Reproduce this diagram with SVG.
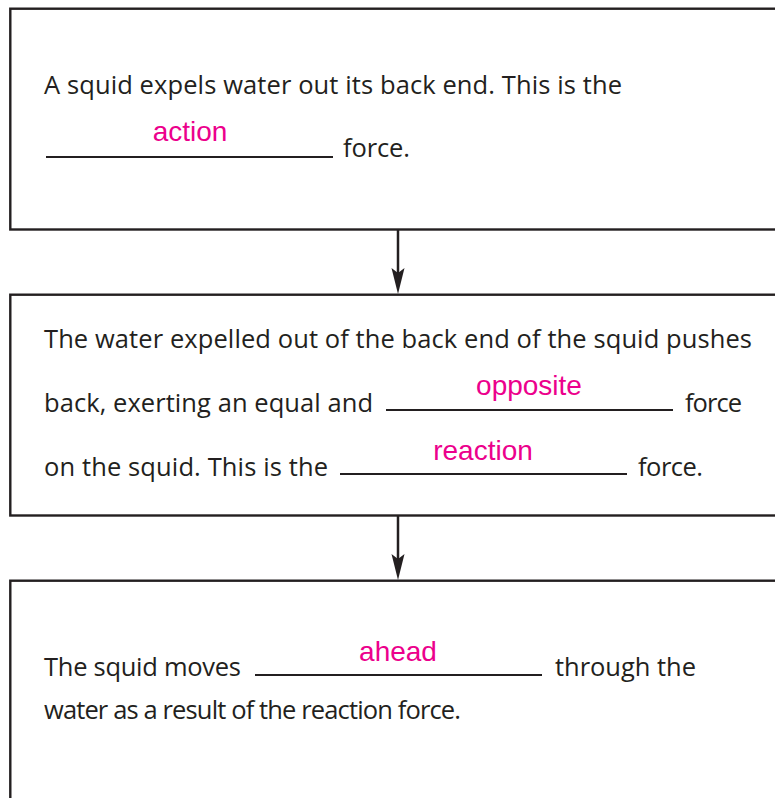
<svg xmlns="http://www.w3.org/2000/svg" width="775" height="798" viewBox="0 0 775 798">
<style>
.box{fill:none;stroke:#231f20;stroke-width:2.4}
.t{font-family:"Open Sans","Noto Sans","Liberation Sans",sans-serif;font-size:25.5px;fill:#231f20}
.a{font-family:"Liberation Sans",Arial,sans-serif;font-size:28px;fill:#ec008c;text-anchor:middle}
.u{stroke:#231f20;stroke-width:1.8}
.c{stroke:#231f20;stroke-width:2.5}
.h{fill:#231f20}
</style>
<rect width="775" height="798" fill="#ffffff"/>
<g id="node1">
<rect class="box" x="10.3" y="8.7" width="800" height="220.8"/>
<text class="t" x="44" y="94" textLength="578">A squid expels water out its back end. This is the</text>
<line class="u" x1="46" y1="157" x2="333" y2="157"/>
<text class="a" x="190" y="141">action</text>
<text class="t" x="343" y="157" textLength="67">force.</text>
</g>
<g id="node2">
<rect class="box" x="10.3" y="294.7" width="800" height="220.8"/>
<text class="t" x="44" y="348" textLength="708">The water expelled out of the back end of the squid pushes</text>
<text class="t" x="44" y="412" textLength="329">back, exerting an equal and</text>
<line class="u" x1="386" y1="410" x2="673" y2="410"/>
<text class="a" x="529" y="395">opposite</text>
<text class="t" x="685" y="412" textLength="57">force</text>
<text class="t" x="44" y="476" textLength="284">on the squid. This is the</text>
<line class="u" x1="340" y1="474" x2="627" y2="474"/>
<text class="a" x="483" y="460">reaction</text>
<text class="t" x="638" y="476" textLength="65">force.</text>
</g>
<g id="node3">
<rect class="box" x="10.3" y="580.7" width="800" height="240"/>
<text class="t" x="44" y="675.5" textLength="197">The squid moves</text>
<line class="u" x1="255" y1="675" x2="542" y2="675"/>
<text class="a" x="398" y="661">ahead</text>
<text class="t" x="555" y="675.5" textLength="141">through the</text>
<text class="t" x="44" y="719" textLength="417">water as a result of the reaction force.</text>
</g>
<g id="connectors">
<line class="c" x1="398" y1="230" x2="398" y2="275"/>
<path class="h" d="M398,294 L391.5,268 L398,273 L404.5,268 Z"/>
<line class="c" x1="398" y1="516" x2="398" y2="561"/>
<path class="h" d="M398,580 L391.5,554 L398,559 L404.5,554 Z"/>
</g>
</svg>
